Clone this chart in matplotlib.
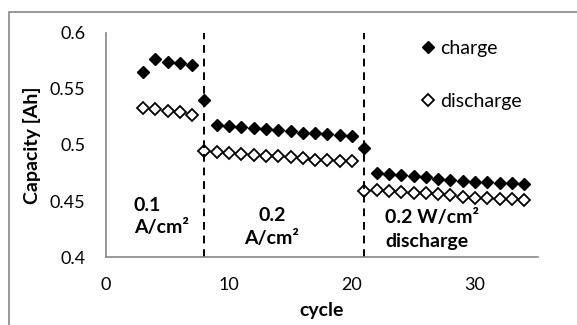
import matplotlib
matplotlib.use("Agg")
import matplotlib.pyplot as plt
from matplotlib.patches import Rectangle

# cycles and capacities
cycles = list(range(3, 35))
charge = [0.565, 0.576, 0.574, 0.573, 0.571, 0.540,
          0.518, 0.517, 0.516, 0.515, 0.514, 0.513, 0.512, 0.511, 0.511, 0.510, 0.509, 0.508,
          0.497,
          0.475, 0.474, 0.473, 0.472, 0.471, 0.470, 0.469, 0.468, 0.467, 0.467, 0.466, 0.466, 0.465]
discharge = [0.533, 0.532, 0.530, 0.529, 0.527, 0.495,
             0.494, 0.493, 0.492, 0.491, 0.490, 0.490, 0.489, 0.488, 0.487, 0.487, 0.486, 0.486,
             0.459,
             0.460, 0.459, 0.458, 0.457, 0.457, 0.456, 0.455, 0.454, 0.453, 0.453, 0.452, 0.452, 0.451]
switch_cycles = [8, 21]
region_labels = ["0.1\nA/cm²", "0.2\nA/cm²", "0.2 W/cm²\ndischarge"]

plt.rcParams['font.family'] = ['Lato', 'DejaVu Sans']

fig = plt.figure(figsize=(5.77, 3.25), dpi=100)
ax = fig.add_axes([0.1837, 0.2083, 0.932 - 0.1837, 0.9 - 0.2083])

ax.plot(cycles, charge, linestyle='none', marker='D', ms=6.2, color='black', label='charge')
ax.plot(cycles, discharge, linestyle='none', marker='D', ms=5.8, mfc='white', mec='black',
        mew=1.3, label='discharge')

for c in switch_cycles:
    ax.axvline(c, color='black', linestyle=(0, (4, 3)), lw=1.4)

ax.set_xlim(0, 35.1)
ax.set_ylim(0.4, 0.6)
ax.set_xticks([0, 10, 20, 30])
ax.set_yticks([0.4, 0.45, 0.5, 0.55, 0.6])
ax.set_yticklabels(['0.4', '0.45', '0.5', '0.55', '0.6'])
ax.tick_params(length=0, labelsize=13, colors='black')
ax.tick_params(axis='y', pad=15)
ax.tick_params(axis='x', pad=14)

for s in ['top', 'right']:
    ax.spines[s].set_visible(False)
for s in ['left', 'bottom']:
    ax.spines[s].set_color('#868686')
    ax.spines[s].set_linewidth(1.2)

ax.set_xlabel('cycle', fontsize=14, fontweight='bold', labelpad=7)
ax.set_ylabel('Capacity [Ah]', fontsize=14, fontweight='bold', labelpad=6)

# region text
ax.text(2.27, 0.4363, region_labels[0], fontsize=14, fontweight='bold', ha='left', va='center',
        linespacing=1.3)
ax.text(13.5, 0.427, region_labels[1], fontsize=14, fontweight='bold', ha='center', va='center',
        linespacing=1.4)
ax.text(22.7, 0.4245, region_labels[2], fontsize=14, fontweight='bold', ha='left', va='center',
        linespacing=1.5)

ax.legend(loc='upper left', bbox_to_anchor=(0.727, 0.967), frameon=False, fontsize=14,
          handlelength=0.8, handletextpad=0.25, labelspacing=1.85, borderaxespad=0,
          borderpad=0)

fig.patches.append(Rectangle((9.3 / 577, -0.1), 1.2, 1.1 - 12.3 / 325,
                             transform=fig.transFigure, fill=False, edgecolor='#868686', lw=1.2))

fig.savefig('out.png', dpi=100)
